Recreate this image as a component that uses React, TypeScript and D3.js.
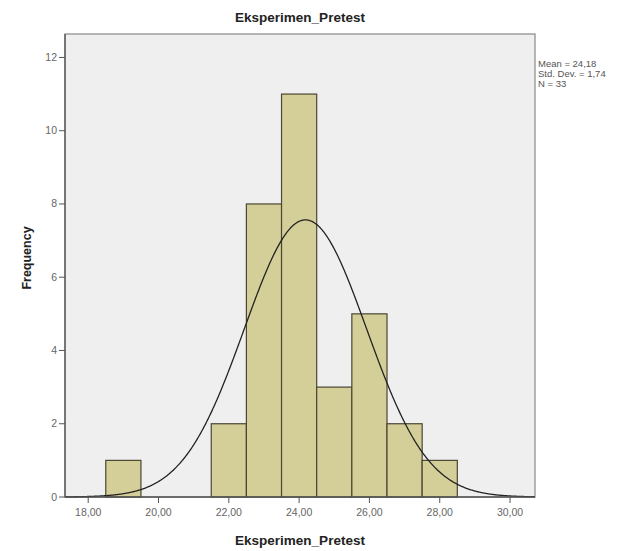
import React from "react";
import * as d3 from "d3";

const binStarts = [18.5, 19.5, 20.5, 21.5, 22.5, 23.5, 24.5, 25.5, 26.5, 27.5];
const counts = [1, 0, 0, 2, 8, 11, 3, 5, 2, 1];
const xTicks = [18, 20, 22, 24, 26, 28, 30];
const yTicks = [0, 2, 4, 6, 8, 10, 12];
const mean = 24.18;
const sd = 1.74;
const n = 33;
const binWidth = 1;
const statLines = ["Mean = 24,18", "Std. Dev. = 1,74", "N = 33"];

const W = 632, H = 551;
const L = 65, R = 535, T = 34, B = 497;

export default function App() {
  const x = d3.scaleLinear().domain([17.34, 30.71]).range([L, R]);
  const y = d3.scaleLinear().domain([0, 12.64]).range([B, T]);
  const fmt = (v: number) => v.toFixed(2).replace(".", ",");
  const curveData = d3.range(17.34, 30.71, 0.02).map((v) => {
    const d = (n * binWidth) / (sd * Math.sqrt(2 * Math.PI)) * Math.exp(-0.5 * ((v - mean) / sd) ** 2);
    return [v, d] as [number, number];
  });
  const line = d3.line<[number, number]>().x((d) => x(d[0])).y((d) => y(d[1]));
  const font = "'Liberation Sans', Arial, sans-serif";
  return (
    <svg width={W} height={H} style={{ position: "absolute", left: 0, top: 0, background: "#fff" }} fontFamily={font}>
      <text x={300} y={22} textAnchor="middle" fontSize={13.5} fontWeight="bold" fill="#222">Eksperimen_Pretest</text>
      <rect x={L} y={T} width={R - L} height={B - T} fill="#efefef" stroke="#888" strokeWidth={1.2} />
      {binStarts.map((s, i) => counts[i] > 0 && (
        <rect key={i} x={x(s)} y={y(counts[i])} width={x(s + binWidth) - x(s)} height={B - y(counts[i])}
          fill="#d4cf99" stroke="#4a4632" strokeWidth={1.2} />
      ))}
      <path d={line(curveData) || ""} fill="none" stroke="#222" strokeWidth={1.3} />
      <line x1={L} x2={L} y1={T} y2={B} stroke="#555" strokeWidth={1.3} />
      <line x1={L} x2={R} y1={B} y2={B} stroke="#555" strokeWidth={1.3} />
      {yTicks.map((t) => (
        <g key={t}>
          <line x1={L - 6} x2={L} y1={y(t)} y2={y(t)} stroke="#555" />
          <text x={L - 8} y={y(t) + 3.5} textAnchor="end" fontSize={10.5} fill="#666">{t}</text>
        </g>
      ))}
      {xTicks.map((t) => (
        <g key={t}>
          <line x1={x(t)} x2={x(t)} y1={B} y2={B + 6} stroke="#555" />
          <text x={x(t)} y={B + 19} textAnchor="middle" fontSize={10.5} fill="#666">{fmt(t)}</text>
        </g>
      ))}
      <text x={300} y={545} textAnchor="middle" fontSize={13.5} fontWeight="bold" fill="#222">Eksperimen_Pretest</text>
      <text transform={`translate(31,258) rotate(-90)`} textAnchor="middle" fontSize={12.5} fontWeight="bold" fill="#222">Frequency</text>
      {statLines.map((s, i) => (
        <text key={i} x={538} y={67 + i * 10} fontSize={9.5} fill="#555">{s}</text>
      ))}
    </svg>
  );
}
